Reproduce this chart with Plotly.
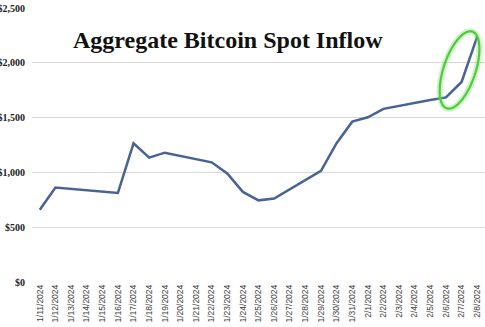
import numpy as np
import plotly.graph_objects as go

dates = ["1/11/2024", "1/12/2024", "1/13/2024", "1/14/2024", "1/15/2024", "1/16/2024",
         "1/17/2024", "1/18/2024", "1/19/2024", "1/20/2024", "1/21/2024", "1/22/2024",
         "1/23/2024", "1/24/2024", "1/25/2024", "1/26/2024", "1/27/2024", "1/28/2024",
         "1/29/2024", "1/30/2024", "1/31/2024", "2/1/2024", "2/2/2024", "2/3/2024",
         "2/4/2024", "2/5/2024", "2/6/2024", "2/7/2024", "2/8/2024"]
inflow = [660, 862, None, None, None, 813,
          1266, 1134, 1180, None, None, 1092,
          990, 822, 745, 761, None, None,
          1015, 1266, 1463, 1503, 1580, None,
          None, 1660, 1684, 1825, 2239]
y_ticks = [0, 500, 1000, 1500, 2000, 2500]
title_text = "Aggregate Bitcoin Spot Inflow"

W, H = 485, 327
ML, MR, MT, MB = 31.5, 0, 7.5, 45.3
PW, PH = W - ML - MR, H - MT - MB

idx = list(range(len(dates)))

fig = go.Figure()
fig.add_trace(go.Scatter(
    x=idx, y=inflow, mode="lines", connectgaps=True,
    line=dict(color="#486396", width=2.5), hoverinfo="skip", showlegend=False))

# green highlight ellipse (pixel geometry converted to paper coords)
cx, cy, a, b, tilt = 459.5, 69.5, 40.5, 16.0, np.deg2rad(18.5)
t = np.linspace(0, 2 * np.pi, 80)
ex = cx + a * np.sin(tilt) * np.cos(t) + b * np.cos(tilt) * np.sin(t)
ey = cy - a * np.cos(tilt) * np.cos(t) + b * np.sin(tilt) * np.sin(t)
px = (ex - ML) / PW
py = 1 - (ey - MT) / PH
path = "M " + " L ".join(f"{x:.5f},{y:.5f}" for x, y in zip(px, py)) + " Z"
fig.add_shape(type="path", path=path, xref="paper", yref="paper",
              line=dict(color="rgba(120,220,100,0.35)", width=6), layer="above")
fig.add_shape(type="path", path=path, xref="paper", yref="paper",
              line=dict(color="#4ccc3a", width=2.2), layer="above")

title_x = (228 - ML) / PW
title_y = 1 - (40 - MT) / PH
fig.add_annotation(text="<b>" + title_text + "</b>", xref="paper", yref="paper",
                   x=title_x, y=title_y, xanchor="center", yanchor="middle", showarrow=False,
                   font=dict(family="Liberation Serif", size=24, color="#111111"))

fig.update_layout(
    width=W, height=H,
    margin=dict(l=ML, r=MR, t=MT, b=MB, pad=0, autoexpand=False),
    paper_bgcolor="white", plot_bgcolor="white",
    xaxis=dict(range=[-0.5, len(dates) - 0.5], tickmode="array", tickvals=idx, ticktext=dates,
               tickangle=-90, showgrid=False, zeroline=False, showline=False, ticks="",
               tickfont=dict(family="Liberation Sans", size=8.5, color="#404040"),
               automargin=False, fixedrange=True),
    yaxis=dict(range=[0, 2500], tickmode="array", tickvals=y_ticks, tickformat="$,.0f",
               showgrid=True, gridcolor="#d9d9d9", gridwidth=1, zeroline=False,
               showline=False, ticks="", ticklabelstandoff=6,
               tickfont=dict(family="Liberation Serif", size=10, color="#222222", weight="bold"),
               automargin=False, fixedrange=True),
)
fig.write_html("out.html")
